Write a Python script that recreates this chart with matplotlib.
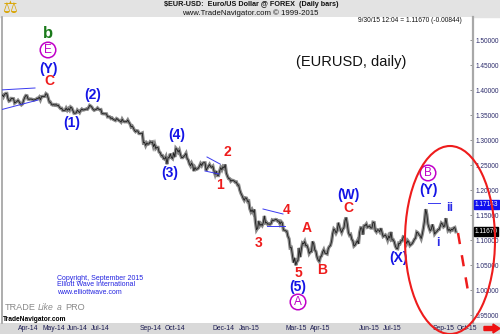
import matplotlib.pyplot as plt
from matplotlib.patches import Ellipse, Rectangle, FancyArrow
import pandas as pd

# daily closes, one row per week (Mon-Fri), from 3 Mar 2014 to 30 Sep 2015
closes = [
    1.3728, 1.3740, 1.3707, 1.3866, 1.3875,
    1.3873, 1.3860, 1.3905, 1.3865, 1.3913,
    1.3930, 1.3931, 1.3829, 1.3778, 1.3788,
    1.3831, 1.3829, 1.3826, 1.3738, 1.3755,
    1.3770, 1.3794, 1.3765, 1.3726, 1.3703,
    1.3722, 1.3794, 1.3852, 1.3889, 1.3885,
    1.3817, 1.3814, 1.3819, 1.3817, 1.3810,
    1.3796, 1.3806, 1.3812, 1.3831, 1.3830,
    1.3857, 1.3806, 1.3867, 1.3873, 1.3870,
    1.3874, 1.3927, 1.3910, 1.3837, 1.3759,
    1.3757, 1.3711, 1.3700, 1.3710, 1.3696,
    1.3709, 1.3690, 1.3695, 1.3655, 1.3630,
    1.3633, 1.3591, 1.3593, 1.3593, 1.3637,
    1.3595, 1.3628, 1.3597, 1.3660, 1.3643,
    1.3591, 1.3536, 1.3535, 1.3545, 1.3597,
    1.3573, 1.3548, 1.3593, 1.3618, 1.3600,
    1.3603, 1.3612, 1.3620, 1.3615, 1.3646,
    1.3692, 1.3678, 1.3655, 1.3614, 1.3595,
    1.3606, 1.3614, 1.3640, 1.3617, 1.3605,
    1.3608, 1.3530, 1.3525, 1.3525, 1.3525,
    1.3523, 1.3463, 1.3466, 1.3462, 1.3430,
    1.3440, 1.3412, 1.3400, 1.3390, 1.3428,
    1.3415, 1.3390, 1.3380, 1.3358, 1.3415,
    1.3378, 1.3364, 1.3366, 1.3365, 1.3400,
    1.3356, 1.3322, 1.3263, 1.3278, 1.3240,
    1.3192, 1.3167, 1.3185, 1.3180, 1.3130,
    1.3128, 1.3130, 1.3140, 1.2943, 1.2952,
    1.2890, 1.2940, 1.2915, 1.2926, 1.2964,
    1.2950, 1.2960, 1.2868, 1.2920, 1.2830,
    1.2853, 1.2852, 1.2760, 1.2745, 1.2685,
    1.2687, 1.2628, 1.2620, 1.2665, 1.2518,
    1.2645, 1.2650, 1.2725, 1.2650, 1.2630,
    1.2745, 1.2660, 1.2835, 1.2810, 1.2760,
    1.2800, 1.2710, 1.2650, 1.2648, 1.2670,
    1.2696, 1.2733, 1.2630, 1.2600, 1.2525,
    1.2484, 1.2537, 1.2490, 1.2380, 1.2450,
    1.2412, 1.2420, 1.2437, 1.2475, 1.2527,
    1.2490, 1.2538, 1.2547, 1.2545, 1.2390,
    1.2438, 1.2475, 1.2510, 1.2465, 1.2453,
    1.2475, 1.2380, 1.2310, 1.2378, 1.2290,
    1.2290, 1.2378, 1.2446, 1.2405, 1.2465,
    1.2440, 1.2510, 1.2338, 1.2278, 1.2230,
    1.2225, 1.2175, 1.2195, 1.2190, 1.2180,
    1.2155, 1.2160, 1.2100, 1.2098, 1.2000,
    1.1935, 1.1890, 1.1835, 1.1795, 1.1843,
    1.1837, 1.1771, 1.1779, 1.1625, 1.1565,
    1.1605, 1.1552, 1.1610, 1.1365, 1.1205,
    1.1242, 1.1380, 1.1290, 1.1318, 1.1290,
    1.1345, 1.1480, 1.1342, 1.1350, 1.1315,
    1.1321, 1.1312, 1.1330, 1.1400, 1.1390,
    1.1400, 1.1410, 1.1405, 1.1375, 1.1380,
    1.1320, 1.1365, 1.1340, 1.1200, 1.1196,
    1.1182, 1.1174, 1.1073, 1.1025, 1.0843,
    1.0850, 1.0700, 1.0550, 1.0640, 1.0495,
    1.0565, 1.0595, 1.0840, 1.0660, 1.0820,
    1.0940, 1.0925, 1.0970, 1.0885, 1.0890,
    1.0830, 1.0730, 1.0765, 1.0770, 1.0970,
    1.0925, 1.0800, 1.0770, 1.0660, 1.0600,
    1.0570, 1.0660, 1.0680, 1.0760, 1.0805,
    1.0740, 1.0730, 1.0720, 1.0825, 1.0870,
    1.0890, 1.0975, 1.1130, 1.1220, 1.1195,
    1.1140, 1.1185, 1.1345, 1.1265, 1.1200,
    1.1150, 1.1213, 1.1245, 1.1390, 1.1450,
    1.1318, 1.1150, 1.1095, 1.1110, 1.1015,
    1.0980, 1.0880, 1.0900, 1.0945, 1.0985,
    1.0925, 1.1150, 1.1245, 1.1240, 1.1110,
    1.1285, 1.1290, 1.1320, 1.1255, 1.1265,
    1.1280, 1.1240, 1.1240, 1.1355, 1.1350,
    1.1190, 1.1160, 1.1205, 1.1200, 1.1165,
    1.1235, 1.1150, 1.1070, 1.1085, 1.1100,
    1.1060, 1.1000, 1.1080, 1.1040, 1.1160,
    1.1000, 1.1005, 1.0960, 1.0875, 1.0830,
    1.0825, 1.0935, 1.0925, 1.0985, 1.0985,
    1.1065, 1.1060, 1.0990, 1.0930, 1.0985,
    1.0955, 1.0890, 1.0910, 1.0930, 1.0970,
    1.1015, 1.1040, 1.1160, 1.1145, 1.1105,
    1.1085, 1.1030, 1.1120, 1.1240, 1.1390,
    1.1615, 1.1515, 1.1320, 1.1245, 1.1185,
    1.1215, 1.1310, 1.1230, 1.1120, 1.1150,
    1.1170, 1.1205, 1.1210, 1.1275, 1.1340,
    1.1320, 1.1265, 1.1285, 1.1435, 1.1300,
    1.1190, 1.1215, 1.1180, 1.1215, 1.1200,
    1.1240, 1.1250, 1.1167,
]
start_date = "2014-03-03"
month_labels = ["Apr-14", "May-14", "Jun-14", "Jul-14", "Sep-14", "Oct-14",
                "Dec-14", "Jan-15", "Mar-15", "Apr-15", "Jun-15", "Jul-15",
                "Sep-15", "Oct-15"]
y_ticks = [0.95, 1.00, 1.05, 1.10, 1.15, 1.20, 1.25, 1.30, 1.35, 1.40, 1.45, 1.50]
high_mark = 1.17143
last_price = 1.11670

W, H = 500, 334
fig = plt.figure(figsize=(5, 3.34), dpi=100)
plt.rcParams['font.family'] = ['Liberation Sans', 'DejaVu Sans']


def fx(x):
    return x / W


def fy(y):
    return 1 - y / H


def px(x, y):
    # picture pixel -> (bar index, price)
    return 21 + (x - 18) / 1.12, 1.50 - (y - 40) / 500


# grey bands
fig.patches.append(Rectangle((0, fy(17)), 1, 17 / H, transform=fig.transFigure,
                             color='#e3e3e3', zorder=-5))
fig.patches.append(Rectangle((0, 0), 1, 11 / H, transform=fig.transFigure,
                             color='#d9d9d9', zorder=-5))

ax = fig.add_axes([fx(2), fy(323), fx(471), 306 / H])
ax.set_facecolor('white')

idx = list(range(len(closes)))
ax.plot(idx, closes, color='#8a8a8a', lw=2.4, solid_joinstyle='miter', zorder=2)
ax.plot(idx, closes, color='#1e1e1e', lw=0.6, zorder=3)

x0, _ = px(2, 0)
x1, _ = px(473, 0)
_, ytop = px(0, 17)
_, ybot = px(0, 323)
ax.set_xlim(x0, x1)
ax.set_ylim(ybot, ytop)

# month ticks
all_days = pd.bdate_range(start_date, "2015-10-30")
firsts = {}
for i, d in enumerate(all_days):
    key = d.strftime("%b-%y")
    if key not in firsts:
        firsts[key] = i
ax.set_xticks([firsts[m] for m in month_labels])
ax.set_xticklabels(month_labels, ha='left')
ax.tick_params(axis='x', length=0, pad=1.2, labelsize=4.9, labelcolor='#1a1a50')

ax.yaxis.tick_right()
ax.set_yticks(y_ticks)
ax.set_yticklabels([f"{v:.5f}" for v in y_ticks])
ax.tick_params(axis='y', direction='in', length=2.5, width=0.6, color='#808080',
               pad=2.0, labelsize=4.7, labelcolor='#2a2a6a')
for s in ['top', 'bottom']:
    ax.spines[s].set_visible(False)
ax.spines['left'].set_color('#a0a0a0')
ax.spines['left'].set_linewidth(1.2)
ax.spines['right'].set_color('#a8a8a8')
ax.spines['right'].set_linewidth(1.6)

# price boxes on the axis
bx = {'boxstyle': 'square,pad=0.12'}
ax.text(1.003, high_mark, f"{high_mark:.5f}", transform=ax.get_yaxis_transform(),
        fontsize=4.7, color='white', va='center', ha='left',
        bbox=dict(bx, fc='#1010f0', ec='#1010f0'))
ax.text(1.003, last_price, f"{last_price:.5f}", transform=ax.get_yaxis_transform(),
        fontsize=4.7, color='white', va='center', ha='left',
        bbox=dict(bx, fc='black', ec='black'))

BLUE = '#1414e6'
RED = '#ee1c1c'
MAG = '#c000c8'
GREEN = '#1a7a1a'
waves = [
    ("b", 48, 33, GREEN, 12), ("(Y)", 48, 69, BLUE, 10), ("C", 49, 81, RED, 10),
    ("(1)", 72, 123, BLUE, 10), ("(2)", 93, 95, BLUE, 10), ("(3)", 170, 173, BLUE, 10),
    ("(4)", 177, 135, BLUE, 10), ("1", 220, 185, RED, 10), ("2", 227, 152, RED, 10),
    ("3", 259, 243, RED, 10), ("4", 287, 210, RED, 10), ("5", 298, 273, RED, 10),
    ("(5)", 298, 287, BLUE, 10), ("A", 307, 228, RED, 10), ("B", 322, 270, RED, 10),
    ("(W)", 348, 195, BLUE, 10), ("C", 348, 208, RED, 10), ("(X)", 398, 258, BLUE, 10),
    ("(Y)", 428, 190, BLUE, 10), ("ii", 450, 208, '#2a2ae6', 9), ("i", 438, 243, '#2a2ae6', 9),
]
for t, x, y, c, s in waves:
    ax.text(*px(x, y), t, color=c, fontsize=s, fontweight='bold', ha='center', va='center')

for t, x, y in [("E", 48, 50), ("A", 298, 302), ("B", 428, 173)]:
    ax.text(*px(x, y), t, color=MAG, fontsize=8.5, ha='center', va='center',
            bbox=dict(boxstyle='circle,pad=0.15', fc='none', ec=MAG, lw=1.1))

# trend lines
for (xa, ya), (xb, yb) in [((0, 90), (35, 88)), ((0, 110), (38, 100)),
                           ((207, 157), (220, 164)), ((205, 171), (219, 174)),
                           ((263, 209), (283, 214)), ((267, 226), (285, 226)),
                           ((428, 203), (440, 203))]:
    pa, pb = px(xa, ya), px(xb, yb)
    ax.plot([pa[0], pb[0]], [pa[1], pb[1]], color='#3a3af0', lw=0.7, zorder=4)

# projection
pa, pb = px(458, 233), px(469, 297)
ax.plot([pa[0], pb[0]], [pa[1], pb[1]], color=RED, lw=1.8, ls=(0, (4.5, 4.5)), zorder=5)
c = px(450, 240)
ax.add_patch(Ellipse(c, 90 / 1.12, 188 / 500, fill=False, ec=RED, lw=1.5,
                     clip_on=False, zorder=6))

ax.text(*px(351, 62), "(EURUSD, daily)", fontsize=10.5, color='#111111',
        ha='center', va='center')
ax.text(*px(462, 20), "9/30/15 12:04 = 1.11670 (-0.00844)", fontsize=4.8,
        color='#111111', ha='right', va='center')

for t, y in [("Copyright, September 2015", 278), ("Elliott Wave International", 285),
             ("www.elliottwave.com", 293)]:
    fig.text(fx(57), fy(y), t, fontsize=5.0, color='#2323e0', va='center')

fig.text(fx(5), fy(308), "TRADE", fontsize=6.6, color='#8a8a8a', va='center')
fig.text(fx(38), fy(308), "Like", fontsize=6.2, color='#8a8a8a', va='center', style='italic')
fig.text(fx(57), fy(308), "a", fontsize=6.2, color='#8a8a8a', va='center', style='italic')
fig.text(fx(65), fy(308), "PRO", fontsize=6.6, color='#8a8a8a', va='center')
fig.text(fx(3), fy(319.5), "TradeNavigator.com", fontsize=4.8, color='black',
         fontweight='bold', va='center')

fig.text(fx(251), fy(5), "$EUR-USD:  Euro/US Dollar @ FOREX  (Daily bars)",
         fontsize=5.2, fontweight='bold', color='#111111', ha='center', va='center')
fig.text(fx(250), fy(13.5), "www.TradeNavigator.com \u00a9 1999-2015",
         fontsize=5.6, color='#111111', ha='center', va='center')
fig.text(fx(10), fy(8), "\u2696", fontsize=12, color='#d9a400', ha='center',
         va='center', family='DejaVu Sans')

fig.patches.append(FancyArrow(fx(484), fy(328.5), fx(9), 0, width=4 / H,
                              head_width=9 / H, head_length=fx(7),
                              length_includes_head=False, transform=fig.transFigure,
                              color='#ee1111', zorder=3))

fig.savefig("out.png", dpi=100)
